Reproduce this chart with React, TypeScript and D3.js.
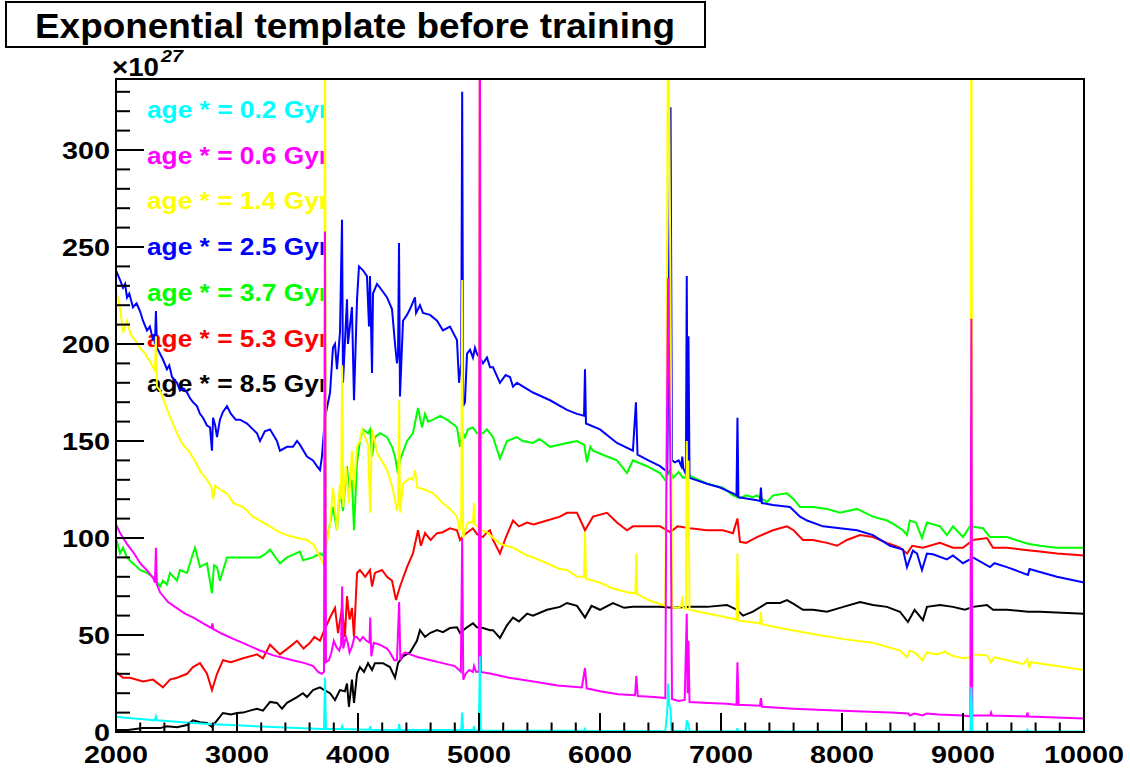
import { useEffect, useRef } from 'react'
import * as d3 from 'd3'

type Pt = [number, number]

// wavelength (Angstrom), flux (x 1e27)
const age02: Pt[] = [[2000,0],[2000,8],[2060,7.5],[2150,7],[2250,6.5],[2320,6],[2330,8],[2340,6],[2450,5.5],[2600,4.8],[2800,4],[3000,3.5],[3200,2.8],[3400,2.3],[3600,1.8],[3700,1.5],[3719,1.5],[3727,28],[3735,1.5],[3860,1.5],[3869,3],[3878,1.5],[4095,1.2],[4101,3],[4108,1.2],[4333,1],[4340,4],[4347,1],[4853,1],[4861,10],[4869,1],[4952,1],[4959,3],[4966,0.8],[4999,0.8],[5007,39],[5015,0.8],[5500,0.6],[5870,0.6],[5876,1.5],[5882,0.5],[6540,0.5],[6548,6],[6556,10],[6563,25],[6572,14],[6583,12],[6591,0.5],[6710,0.5],[6717,6],[6731,4],[6740,0.4],[7130,0.4],[7136,2],[7142,0.4],[8000,0.3],[9061,0.3],[9069,23],[9077,0.3],[9525,0.3],[9532,1.2],[9540,0.2],[10000,0.2],[10000,0]]

const age06: Pt[] = [[2000,0],[2000,107],[2030,103],[2090,97],[2150,92],[2200,87],[2260,83],[2310,79],[2322,77],[2330,95],[2338,76],[2364,72],[2430,67],[2500,64],[2570,61],[2640,59],[2720,56],[2790,53.5],[2797,56],[2805,53],[2880,50.5],[2970,48],[3080,45],[3190,42],[3300,39.5],[3460,37],[3560,35.5],[3630,34],[3670,31],[3700,30],[3719,31],[3727,258],[3735,36],[3760,37],[3780,41],[3800,47],[3820,44],[3845,42],[3860,45],[3869,75],[3878,43],[3900,49],[3915,46],[3930,41],[3950,44],[3970,49],[3990,49],[4016,47],[4041,49],[4070,47],[4095,46],[4101,59],[4110,39],[4130,46],[4180,45],[4240,43],[4264,41],[4300,37],[4322,37],[4340,67],[4350,37],[4370,40],[4390,41],[4430,40],[4500,38.5],[4600,37],[4700,35.5],[4800,34],[4835,32],[4850,31],[4861,100],[4870,27],[4890,30],[4920,32],[4950,31],[4959,34],[4975,31],[4999,31],[5007,400],[5015,31],[5100,30],[5250,28],[5450,26],[5650,24],[5850,23],[5876,33],[5890,22.5],[6000,21],[6150,19.5],[6290,19],[6300,29],[6312,18.5],[6450,18],[6540,17.5],[6548,120],[6563,234],[6583,130],[6595,17],[6650,16],[6700,16.5],[6717,61],[6724,20],[6731,47],[6740,15.5],[6900,15],[7050,14.5],[7128,14],[7136,36],[7145,14],[7322,13.5],[7330,17.5],[7340,13],[7600,12],[8000,11],[8400,10],[8550,9.5],[8560,8.5],[8600,9.5],[8665,8.5],[8700,9.5],[8800,9],[9000,8.5],[9061,8],[9069,213],[9077,8.5],[9225,8.5],[9232,10],[9240,8.5],[9525,8],[9532,10],[9540,8],[10000,7],[10000,0]]

const age14: Pt[] = [[2000,0],[2000,227],[2030,220],[2058,206],[2091,212],[2120,205],[2157,202],[2198,198],[2240,195],[2290,190],[2322,186],[2330,204],[2338,178],[2364,176],[2400,170],[2430,165],[2463,160],[2504,154],[2554,148],[2600,145],[2650,140],[2700,134],[2752,130],[2790,126],[2802,120],[2820,127],[2860,125],[2917,123],[2970,118],[3050,116],[3132,111],[3190,109],[3270,106],[3350,103],[3413,101.5],[3500,100],[3580,99],[3640,96],[3686,90],[3711,87],[3719,88],[3727,400],[3735,94],[3769,108],[3793,126],[3826,104],[3851,128],[3860,120],[3869,189],[3878,116],[3900,137],[3925,118],[3950,145],[3967,125],[3990,147],[4016,150],[4033,156],[4060,152],[4083,148],[4101,113],[4116,156],[4140,150],[4157,144],[4240,135],[4289,125],[4322,114],[4331,118],[4340,171],[4347,113],[4372,128],[4430,131],[4454,130],[4471,135],[4490,126],[4550,125],[4620,123],[4700,118],[4760,115],[4818,111],[4840,104],[4853,108],[4861,233],[4869,100],[4884,104],[4909,108],[4950,108],[4959,118],[4967,107],[4999,105],[5007,400],[5015,104],[5066,103],[5173,97],[5281,95],[5397,91],[5446,90],[5562,87],[5669,84],[5727,83.5],[5810,80],[5868,80],[5876,103],[5884,79],[6000,77],[6107,74],[6223,72],[6292,71.5],[6300,92],[6308,71],[6400,68],[6496,66],[6540,65],[6548,150],[6563,400],[6583,226],[6595,64],[6650,64],[6672,65],[6680,70],[6688,64],[6710,63.5],[6717,150],[6724,100],[6731,140],[6740,63],[6900,61],[7050,59],[7128,58],[7136,92],[7144,57.5],[7322,56],[7330,62],[7338,55.5],[7500,53.5],[7711,51],[8000,48],[8256,46],[8480,42],[8537,38.5],[8560,42],[8610,40.5],[8665,37],[8700,41],[8790,40],[8850,41.5],[8900,39.5],[9000,38],[9061,38.5],[9069,400],[9077,40],[9200,39.5],[9230,36],[9260,38.5],[9500,35],[9530,37.5],[9546,33],[9560,36],[10000,32],[10000,0]]

const age25: Pt[] = [[2000,0],[2000,238],[2020,235],[2033,233],[2058,229],[2075,231],[2091,224],[2110,226],[2140,219],[2170,221],[2198,217],[2223,212],[2256,207],[2280,209],[2306,202],[2314,205],[2322,200],[2330,217],[2339,198],[2364,195],[2388,192],[2421,187],[2440,189],[2463,183],[2504,180],[2529,176],[2560,177],[2587,175],[2612,172],[2636,170],[2669,168],[2694,164],[2719,162],[2752,158],[2777,157],[2793,145],[2802,162],[2820,158],[2835,152],[2859,161],[2884,165],[2917,168],[2950,164],[2990,161],[3025,161],[3083,159],[3132,156],[3165,154],[3190,150],[3230,155],[3273,156],[3330,150],[3355,145],[3413,147],[3463,147],[3496,150],[3521,148],[3578,142],[3628,140],[3661,137],[3686,135],[3702,142],[3727,162],[3769,175],[3793,198],[3810,200],[3826,187],[3851,206],[3868,264],[3876,180],[3909,223],[3917,200],[3950,219],[3967,171],[3992,223],[4008,240],[4041,238],[4074,235],[4091,209],[4099,235],[4116,185],[4124,226],[4157,231],[4182,229],[4240,224],[4281,218],[4306,200],[4322,190],[4331,195],[4339,252],[4347,173],[4372,212],[4405,215],[4430,218],[4471,224],[4480,216],[4512,220],[4537,216],[4595,215],[4653,212],[4702,207],[4760,209],[4818,202],[4835,180],[4853,190],[4861,330],[4869,168],[4884,170],[4901,195],[4926,197],[4950,193],[4967,198],[4983,195],[5016,192],[5033,190],[5066,193],[5091,188],[5116,188],[5173,180],[5220,184],[5256,183],[5281,178],[5314,180],[5446,175],[5587,171],[5727,166],[5810,164],[5868,163],[5876,187],[5884,159],[6000,156],[6140,149],[6272,145],[6297,170],[6310,143],[6400,140],[6496,137],[6537,135],[6556,134],[6583,322],[6595,140],[6620,139],[6650,140],[6672,137],[6680,142],[6688,136],[6710,133],[6717,235],[6724,133],[6731,204],[6740,131],[6884,128],[6992,126],[7099,123],[7128,122],[7136,162],[7144,121],[7297,119.5],[7322,119],[7330,126],[7338,118],[7430,117],[7570,116],[7653,111],[7711,109],[7843,106],[7983,105],[8124,104],[8256,101.5],[8397,96],[8504,94],[8537,85],[8586,93.5],[8620,92],[8661,83.5],[8702,92],[8752,91.6],[8867,89],[8917,91],[9000,87],[9057,89],[9082,90],[9223,85],[9260,87],[9363,85],[9537,81],[9550,84],[9636,82.5],[9776,80],[10000,77],[10000,0]]

const age37: Pt[] = [[2000,0],[2000,100],[2033,92],[2058,95],[2091,90],[2120,88],[2158,86],[2198,83.5],[2256,82],[2306,80],[2364,75],[2388,78],[2421,76],[2446,82],[2504,78],[2529,83.5],[2587,82],[2636,92],[2653,95],[2694,85],[2752,87],[2793,71.5],[2810,86],[2835,85],[2859,78],[2917,90],[2967,90],[3083,90],[3190,90],[3240,92],[3273,94],[3355,87],[3413,90],[3521,93],[3545,88.5],[3628,90],[3686,92],[3711,91],[3744,99],[3793,116],[3826,104],[3851,125],[3876,114],[3909,137],[3925,125],[3950,130],[3967,104],[3992,139],[4016,150],[4041,156],[4083,154],[4099,156],[4116,142],[4140,152],[4182,154],[4240,152],[4281,147],[4306,142],[4331,133],[4347,140],[4405,150],[4454,154],[4496,167],[4529,157],[4554,164],[4580,160],[4620,161],[4680,163],[4735,161],[4800,158],[4818,157],[4843,147],[4861,155],[4884,152],[4909,156],[4950,157],[4983,154],[5033,154],[5066,156],[5116,152],[5173,141],[5231,150],[5314,152],[5360,150],[5446,149],[5500,151],[5587,147],[5727,149],[5810,150],[5870,148],[5892,139],[5920,147],[5942,145],[6058,142],[6140,140],[6223,133.5],[6272,140],[6388,137],[6496,133.5],[6537,130],[6580,135],[6603,131],[6650,134],[6686,131],[6710,131],[6717,175],[6730,133],[6744,132],[6884,128],[7016,126],[7099,122],[7157,120.5],[7207,122],[7264,121],[7297,122],[7380,118.5],[7430,122],[7545,123],[7600,120],[7653,116],[7760,116],[7876,115],[7983,113],[8124,115],[8256,111],[8372,109],[8430,107],[8504,104],[8537,101.5],[8560,109],[8610,108],[8661,100],[8702,108],[8810,106],[8867,101.5],[8917,106],[9000,100.5],[9057,106],[9165,105],[9223,100.5],[9363,100.5],[9537,97],[9636,96],[9776,95],[10000,95],[10000,0]]

const age53: Pt[] = [[2000,0],[2000,31],[2058,28],[2116,28],[2223,26],[2306,27],[2388,23],[2446,27],[2504,28],[2587,30],[2636,33.5],[2694,35.5],[2752,30],[2793,21.6],[2835,30],[2884,37],[2950,36],[3050,38],[3165,40],[3215,38],[3273,45],[3355,40],[3438,44],[3496,47],[3550,43],[3603,46],[3640,49],[3686,47],[3711,51],[3769,59],[3810,64],[3835,51],[3868,64],[3892,49],[3909,70],[3930,58],[3950,64],[3967,49],[3992,82],[4016,83.5],[4060,80],[4099,83.5],[4116,75],[4140,82],[4198,83.5],[4240,80],[4281,78],[4314,68],[4347,75],[4405,85],[4454,92],[4496,104],[4520,96],[4554,102.5],[4600,99],[4653,102.5],[4700,103],[4760,105],[4818,104],[4843,99],[4884,102],[4950,105],[4983,102],[5033,100.5],[5066,103],[5091,104],[5116,99],[5173,92],[5220,100],[5281,109],[5330,106],[5397,108],[5450,107],[5562,109],[5669,111],[5727,113],[5810,113],[5876,104],[5942,111],[6058,113],[6140,108],[6223,104],[6272,106],[6388,106],[6496,106],[6554,104],[6580,103],[6640,106],[6744,105],[6884,104],[7016,104],[7099,102.5],[7136,110],[7157,98],[7207,97.5],[7297,100.5],[7430,104],[7545,106],[7600,104],[7677,99],[7760,99],[7876,97.5],[7959,96],[8041,99],[8149,101.5],[8256,100.5],[8372,97.5],[8479,95],[8537,92],[8580,96],[8669,95],[8810,97.5],[8917,95],[9000,95],[9082,99],[9198,100],[9248,95],[9363,95],[9496,94],[9636,93],[9776,92],[10000,91],[10000,0]]

const age85: Pt[] = [[2000,0],[2000,1],[2100,1],[2223,2],[2364,2],[2421,3],[2504,2.5],[2587,3.6],[2636,6],[2694,5],[2752,4.6],[2793,2.6],[2835,6],[2884,9.8],[2950,9],[3000,9.8],[3050,10],[3107,11],[3165,12],[3215,11],[3273,15.5],[3330,15],[3372,12],[3413,15],[3496,18],[3545,20],[3578,18],[3628,21.6],[3686,23],[3711,22],[3769,20],[3810,16.5],[3851,21.6],[3892,21],[3909,25],[3925,13],[3950,27],[3967,15],[3992,30],[4016,33.5],[4050,31],[4083,35.5],[4116,32],[4140,35.5],[4206,35.5],[4264,33.5],[4306,28],[4331,35.5],[4372,39],[4430,41],[4487,47],[4512,52.5],[4554,49],[4595,51],[4653,52.5],[4702,51.5],[4760,53.6],[4818,54],[4843,51],[4901,54],[4950,56],[4983,54],[5033,53.6],[5091,52.5],[5116,52.5],[5173,48.5],[5231,55],[5281,59],[5330,57],[5397,61],[5446,60],[5562,63],[5669,64.5],[5727,66.5],[5810,65],[5876,59],[5930,65],[6000,63],[6107,66.5],[6200,64],[6272,64.5],[6400,64.5],[6496,64.5],[6600,64],[6744,64.5],[6884,64.5],[7049,65.5],[7132,63],[7182,60],[7264,62],[7380,66.5],[7488,66.5],[7545,68],[7600,66],[7677,63],[7760,63],[7876,62],[7983,64],[8149,67],[8256,65.5],[8372,64.5],[8479,62],[8545,56.7],[8600,63],[8669,57.7],[8702,64.5],[8810,65.5],[8917,64.5],[9016,63],[9082,64.5],[9198,65.5],[9248,63],[9363,63],[9537,62],[9636,62],[10000,61],[10000,0]]

const legendLabels = ['age * = 0.2 Gyr', 'age * = 0.6 Gyr', 'age * = 1.4 Gyr', 'age * = 2.5 Gyr', 'age * = 3.7 Gyr', 'age * = 5.3 Gyr', 'age * = 8.5 Gyr']
const colors = ['#00ffff', '#ff00ff', '#ffff00', '#0000ff', '#00ff00', '#ff0000', '#000000']
const series = [age02, age06, age14, age25, age37, age53, age85]

const xTicks = [2000, 3000, 4000, 5000, 6000, 7000, 8000, 9000, 10000]
const yTicks = [0, 50, 100, 150, 200, 250, 300]

const FONT = '"Liberation Sans", Arial, Helvetica, sans-serif'

export default function App() {
  const svgRef = useRef<SVGSVGElement>(null)

  useEffect(() => {
    if (!svgRef.current) return
    const svg = d3.select(svgRef.current)
    svg.selectAll('*').remove()

    const left = 116, right = 1084, top = 79, bottom = 732
    const x = d3.scaleLinear().domain([2000, 10000]).range([left, right])
    const y = d3.scaleLinear().domain([0, 336.6]).range([bottom, top])

    const defs = svg.append('defs')
    defs.append('clipPath').attr('id', 'plot')
      .append('rect').attr('x', left).attr('y', top).attr('width', right - left).attr('height', bottom - top)
    defs.append('clipPath').attr('id', 'leg')
      .append('rect').attr('x', 130).attr('y', top).attr('width', 324 - 130).attr('height', 330)

    svg.append('rect').attr('width', 1130).attr('height', 774).attr('fill', '#fff')

    // legend text (drawn under the spectra)
    svg.append('g').attr('clip-path', 'url(#leg)')
      .selectAll('text')
      .data(legendLabels)
      .enter()
      .append('text')
      .attr('x', 147)
      .attr('y', (_, i) => 118 + i * 45.7)
      .attr('fill', (_, i) => colors[i])
      .attr('font-family', FONT)
      .attr('font-weight', 'bold')
      .attr('font-size', 23)
      .attr('textLength', 182)
      .attr('lengthAdjust', 'spacingAndGlyphs')
      .text(d => d)

    // spectra, last legend entry drawn first
    const line = d3.line<Pt>().x(d => x(d[0])).y(d => y(d[1]))
    const g = svg.append('g').attr('clip-path', 'url(#plot)')
    for (let i = series.length - 1; i >= 0; i--) {
      g.append('path')
        .datum(series[i])
        .attr('d', line)
        .attr('fill', 'none')
        .attr('stroke', colors[i])
        .attr('stroke-width', 2)
    }

    // frame
    svg.append('rect')
      .attr('x', left).attr('y', top).attr('width', right - left).attr('height', bottom - top)
      .attr('fill', 'none').attr('stroke', '#000').attr('stroke-width', 2)

    // x ticks
    svg.append('g').selectAll('line')
      .data(d3.range(2000, 10001, 200))
      .enter().append('line')
      .attr('x1', d => x(d)).attr('x2', d => x(d))
      .attr('y1', bottom).attr('y2', d => bottom - (d % 1000 === 0 ? 19 : 9.5))
      .attr('stroke', '#000').attr('stroke-width', 2)

    svg.append('g').selectAll('text')
      .data(xTicks)
      .enter().append('text')
      .attr('x', d => x(d)).attr('y', 763)
      .attr('text-anchor', 'middle')
      .attr('font-family', FONT).attr('font-weight', 'bold').attr('font-size', 24)
      .attr('textLength', d => String(d).length * 16)
      .attr('lengthAdjust', 'spacingAndGlyphs')
      .text(d => d)

    // y ticks
    svg.append('g').selectAll('line')
      .data(d3.range(0, 337, 10))
      .enter().append('line')
      .attr('x1', left).attr('x2', d => left + (d % 50 === 0 ? 28 : 14))
      .attr('y1', d => y(d)).attr('y2', d => y(d))
      .attr('stroke', '#000').attr('stroke-width', 2)

    svg.append('g').selectAll('text')
      .data(yTicks)
      .enter().append('text')
      .attr('x', 110).attr('y', d => y(d) + 9)
      .attr('text-anchor', 'end')
      .attr('font-family', FONT).attr('font-weight', 'bold').attr('font-size', 24)
      .attr('textLength', d => String(d).length * 16)
      .attr('lengthAdjust', 'spacingAndGlyphs')
      .text(d => d)

    // exponent
    svg.append('text').attr('x', 112).attr('y', 76)
      .attr('font-family', FONT).attr('font-weight', 'bold').attr('font-size', 25)
      .attr('textLength', 47).attr('lengthAdjust', 'spacingAndGlyphs')
      .text('\u00d710')
    svg.append('text').attr('x', 161).attr('y', 62)
      .attr('font-family', FONT).attr('font-weight', 'bold').attr('font-style', 'italic').attr('font-size', 17)
      .attr('textLength', 22).attr('lengthAdjust', 'spacingAndGlyphs')
      .text('27')

    // title box
    svg.append('rect').attr('x', 6).attr('y', 2).attr('width', 699).attr('height', 45)
      .attr('fill', '#fff').attr('stroke', '#000').attr('stroke-width', 2)
    svg.append('text').attr('x', 355).attr('y', 38)
      .attr('text-anchor', 'middle')
      .attr('font-family', FONT).attr('font-weight', 'bold').attr('font-size', 35)
      .attr('textLength', 640).attr('lengthAdjust', 'spacingAndGlyphs')
      .text('Exponential template before training')
  }, [])

  return (
    <svg ref={svgRef} width={1130} height={774}
      style={{ position: 'absolute', left: 0, top: 0, display: 'block' }} />
  )
}
